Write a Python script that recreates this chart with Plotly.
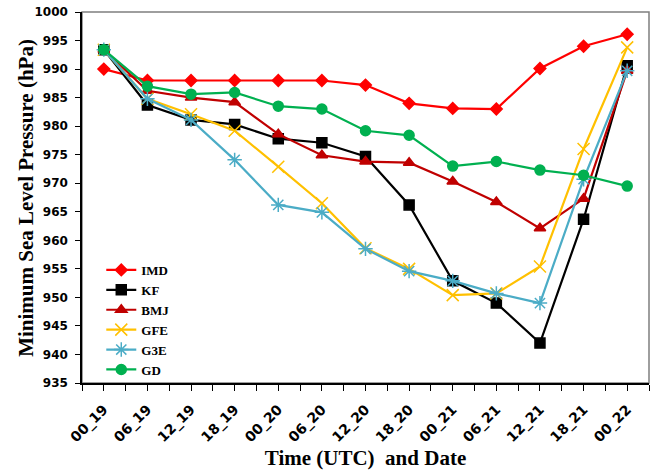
import plotly.graph_objects as go

categories = ["00_19", "06_19", "12_19", "18_19", "00_20", "06_20", "12_20",
              "18_20", "00_21", "06_21", "12_21", "18_21", "00_22"]

imd = [990.0, 988.0, 988.0, 988.0, 988.0, 988.0, 987.2, 984.0, 983.1, 983.0, 990.1, 994.0, 996.1]
kf  = [993.4, 983.7, 981.1, 980.3, 977.8, 977.1, 974.7, 966.2, 952.9, 949.0, 942.0, 963.7, 990.6]
bmj = [993.4, 986.2, 985.0, 984.2, 978.6, 974.9, 973.8, 973.6, 970.3, 966.7, 962.1, 967.3, 989.7]
gfe = [993.4, 984.8, 982.1, 979.2, 972.9, 966.5, 958.6, 955.0, 950.4, 950.7, 955.4, 976.0, 993.8]
g3e = [993.4, 984.8, 981.1, 974.1, 966.2, 964.9, 958.5, 954.6, 952.9, 950.7, 949.0, 970.7, 989.7]
gd  = [993.4, 987.0, 985.6, 985.9, 983.5, 983.0, 979.2, 978.4, 973.0, 973.8, 972.3, 971.4, 969.5]

series = [
    ("IMD", imd, "#FF0000", "diamond", 9),
    ("KF", kf, "#000000", "square", 10),
    ("BMJ", bmj, "#C00000", "triangle-up", 10),
    ("GFE", gfe, "#FFC000", "x-thin-open", 12),
    ("G3E", g3e, "#4BACC6", "asterisk-open", 12),
    ("GD", gd, "#00B050", "circle", 10),
]

xidx = list(range(len(categories)))

fig = go.Figure()
for name, vals, color, sym, size in series:
    fig.add_trace(go.Scatter(
        x=xidx, y=vals, name=name, mode="lines+markers",
        line=dict(color=color, width=2.2),
        marker=dict(symbol=sym, size=size, color=color,
                    line=dict(color=color, width=1.5)),
    ))

fig.add_shape(type="rect", xref="paper", yref="paper", x0=0, y0=0, x1=1, y1=1,
              line=dict(color="#7F7F7F", width=1.5), layer="below")

fig.add_annotation(text="Minimum Sea Level Pressure (hPa)", textangle=-90,
                   xref="paper", yref="paper", x=-0.1, y=0.5,
                   xanchor="center", yanchor="middle", showarrow=False,
                   font=dict(family="Liberation Serif", size=21, color="black", weight="bold"))

fig.update_layout(
    width=653, height=470,
    margin=dict(l=82, r=4, t=12, b=87),
    paper_bgcolor="white", plot_bgcolor="white",
    showlegend=True,
    legend=dict(x=0.034, y=0.345, xanchor="left", yanchor="top",
                font=dict(family="Liberation Serif", size=13, color="#000000", weight="bold"),
                bgcolor="rgba(0,0,0,0)", tracegroupgap=0),
    xaxis=dict(
        automargin=False,
        range=[-0.5, len(categories) - 0.5],
        tickmode="array", tickvals=xidx, ticktext=categories,
        tickangle=-45, ticks="outside", ticklen=6, tickwidth=1.2, tickcolor="black",
        tickfont=dict(family="DejaVu Sans", size=14, color="black", weight="bold"),
        ticklabelstandoff=5, ticklabeloverflow="allow",
        showline=True, linecolor="black", linewidth=1.5,
        showgrid=False, zeroline=False,
        minor=dict(tickmode="array", tickvals=[i - 0.5 for i in range(len(categories) + 1)],
                   ticks="outside", ticklen=6, tickwidth=1.2, tickcolor="black", showgrid=False),
        title=dict(text="Time (UTC)  and Date",
                   font=dict(family="Liberation Serif", size=21, color="black", weight="bold"),
                   standoff=8),
    ),
    yaxis=dict(
        automargin=False,
        range=[935, 1000], dtick=5, tick0=935,
        ticks="outside", ticklen=5, tickwidth=1.2, tickcolor="black",
        tickfont=dict(family="DejaVu Sans", size=12, color="black", weight="bold"),
        ticklabelstandoff=5, ticklabeloverflow="allow",
        showline=True, linecolor="black", linewidth=1.5,
        showgrid=False, zeroline=False,
    ),
)

fig.write_html("out.html", config={"displayModeBar": False},
               post_script="document.body.style.margin='0';document.body.style.overflow='hidden';")
